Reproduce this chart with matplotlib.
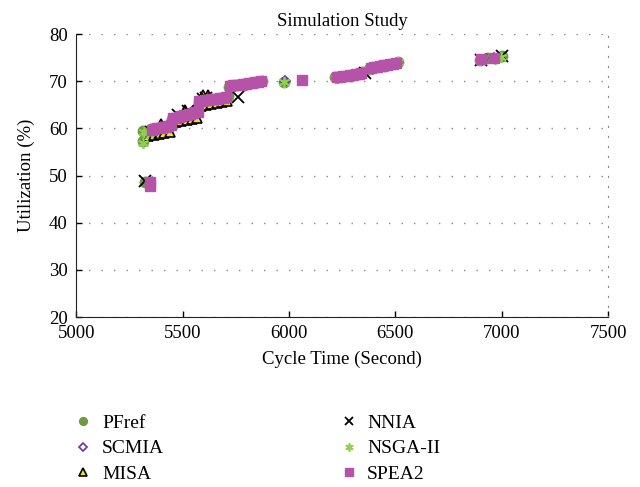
import matplotlib
matplotlib.use("Agg")
import matplotlib.pyplot as plt

# valores (tiempo de ciclo, utilizacion %)
spea2_x = [5345, 5345, 5355, 5368, 5381, 5394, 5407, 5420, 5433, 5446,
           5456, 5469, 5482, 5495, 5508, 5521, 5534, 5547, 5560, 5572,
           5578, 5592, 5606, 5620, 5634, 5648, 5662, 5676, 5690, 5704,
           5722, 5737, 5752, 5767, 5782, 5797, 5812, 5827, 5842, 5857, 5870,
           6063, 6225, 6240, 6255, 6270, 6285, 6300, 6315, 6330, 6340,
           6385, 6400, 6415, 6430, 6445, 6460, 6475, 6490, 6505, 6905, 6962]
spea2_y = [47.8, 48.6, 59.6, 59.8, 60.0, 60.1, 60.3, 60.4, 60.6, 60.7,
           62.2, 62.3, 62.5, 62.6, 62.8, 62.9, 63.1, 63.2, 63.4, 63.5,
           65.8, 65.9, 66.0, 66.1, 66.2, 66.3, 66.3, 66.4, 66.5, 66.6,
           69.0, 69.1, 69.2, 69.3, 69.4, 69.5, 69.6, 69.7, 69.8, 69.9, 70.0,
           70.2, 70.9, 71.0, 71.1, 71.2, 71.3, 71.4, 71.5, 71.6, 71.7,
           72.9, 73.0, 73.1, 73.3, 73.4, 73.5, 73.6, 73.7, 73.8, 74.7, 75.0]

pfref_x = [5314, 5316, 5322, 5340, 5350, 5400, 5445, 5452, 5500, 5560, 5575,
           5578, 5640, 5712, 5718, 5790, 5875, 5978, 6218, 6290, 6345,
           6378, 6450, 6515, 6898, 6930, 7000]
pfref_y = [57.3, 59.5, 48.7, 59.3, 59.9, 60.0, 60.9, 62.0, 62.5, 63.6, 63.8,
           65.6, 66.0, 66.8, 68.8, 69.3, 70.1, 69.9, 70.8, 71.2, 71.9,
           72.7, 73.2, 74.0, 74.5, 74.9, 75.3]

nsga_x = [5312, 5318, 5335, 5360, 5420, 5450, 5470, 5530, 5568, 5580, 5660,
          5700, 5720, 5810, 5872, 5976, 6222, 6320, 6380, 6470, 6512,
          6900, 6968, 6998]
nsga_y = [57.0, 59.2, 59.0, 59.5, 60.1, 61.9, 62.0, 62.8, 63.7, 65.5, 66.0,
          66.5, 68.8, 69.4, 70.0, 69.8, 70.7, 71.5, 72.6, 73.4, 74.1,
          74.4, 74.8, 75.2]

scmia_x = [5360, 5440, 5465, 5560, 5590, 5700, 5740, 5860, 5980, 6230,
           6330, 6395, 6500, 6910, 6965]
scmia_y = [59.4, 60.5, 62.0, 63.3, 65.7, 66.4, 68.9, 69.8, 70.0, 70.7,
           71.5, 72.7, 73.6, 74.5, 74.9]

misa_x = [5340, 5365, 5390, 5415, 5440, 5400, 5470, 5495, 5520, 5545, 5570,
          5510, 5585, 5610, 5635, 5660, 5685, 5710, 5595, 5620]
misa_y = [58.4, 58.6, 58.8, 59.0, 59.2, 60.9, 61.4, 61.6, 61.8, 62.0, 62.2,
          63.8, 64.8, 65.0, 65.2, 65.4, 65.6, 65.8, 67.0, 67.1]

nnia_x = [5322, 5352, 5480, 5525, 5595, 5612, 5760, 6358, 6902, 7002]
nnia_y = [48.8, 59.3, 62.9, 63.7, 66.3, 66.5, 66.7, 71.7, 74.6, 75.3]

plt.rcParams["font.family"] = ["Liberation Serif", "DejaVu Serif"]

fig = plt.figure(figsize=(6.4, 4.87), dpi=100)
ax = fig.add_axes([0.119, 0.349, 0.831, 0.581])

ax.plot(pfref_x, pfref_y, marker="o", linestyle="none", color="#6e9a44",
        markersize=7.5, label="PFref", zorder=3)
ax.plot(scmia_x, scmia_y, marker="D", linestyle="none", markerfacecolor="none",
        markeredgecolor="#7030a0", markersize=5.5, markeredgewidth=1.2,
        label="SCMIA", zorder=3)
ax.plot(misa_x, misa_y, marker="^", linestyle="none", markerfacecolor="#f2e424",
        markeredgecolor="black", markersize=7.5, markeredgewidth=1.2,
        label="MISA", zorder=3)
ax.plot(nnia_x, nnia_y, marker="x", linestyle="none", color="black",
        markersize=8, markeredgewidth=1.3, label="NNIA", zorder=4)
ax.plot(nsga_x, nsga_y, marker=(6, 2, 0), linestyle="none", color="#8fd14f",
        markersize=8, markeredgewidth=1.2, label="NSGA-II", zorder=4)
ax.plot(spea2_x, spea2_y, marker="s", linestyle="none", color="#b653a8",
        markersize=7, label="SPEA2", zorder=5)

ax.set_xlim(5000, 7500)
ax.set_ylim(20, 80)
ax.set_xticks([5000, 5500, 6000, 6500, 7000, 7500])
ax.set_yticks([20, 30, 40, 50, 60, 70, 80])
ax.tick_params(direction="in", length=4, labelsize=13.5, width=1)
ax.tick_params(axis="x", pad=6)
ax.tick_params(axis="y", pad=6)
ax.yaxis.grid(True, linestyle=(0, (1, 8)), color="#888888", linewidth=1)
ax.set_axisbelow(True)
ax.spines["top"].set_visible(False)
ax.spines["right"].set_linestyle((0, (1, 8)))
ax.spines["right"].set_color("#888888")
ax.spines["left"].set_color("#222222")
ax.spines["bottom"].set_color("#222222")

ax.set_title("Simulation Study", fontsize=13.5, pad=6)
ax.set_xlabel("Cycle Time (Second)", fontsize=13.5, labelpad=6)
ax.set_ylabel("Utilization (%)", fontsize=13.5, labelpad=10)

fig.legend(loc="upper left", bbox_to_anchor=(0.103, 0.165), ncol=2, frameon=False,
           fontsize=14, handlelength=1, handletextpad=0.45, columnspacing=9.0,
           labelspacing=0.4, borderaxespad=0, markerscale=0.75)

plt.savefig("out.png", dpi=100)
